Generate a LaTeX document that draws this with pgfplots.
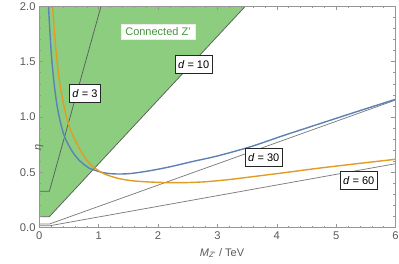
\documentclass[border=0pt]{standalone}
\usepackage{pgfplots}
\pgfplotsset{compat=1.18}
\usepackage{fontspec}
\setmainfont{Liberation Sans}
\usetikzlibrary{shadows}
\definecolor{zgreen}{RGB}{140,205,128}
\definecolor{zgreentext}{RGB}{70,150,60}
\definecolor{zblue}{RGB}{94,129,181}
\definecolor{zorange}{RGB}{225,156,36}
\definecolor{framec}{RGB}{150,150,150}
\definecolor{ticklab}{RGB}{90,90,90}
\definecolor{dline}{RGB}{125,125,125}

\begin{document}
\fontsize{10.8}{13}\selectfont
\begin{tikzpicture}
\begin{axis}[
  at={(0,0)}, anchor=south west,
  scale only axis, width=356.2pt, height=221.4pt,
  xmin=0, xmax=6, ymin=0, ymax=2,
  xtick={0,1,2,3,4,5,6}, ytick={0,0.5,1,1.5,2},
  minor x tick num=4, minor y tick num=4,
  tick align=inside,
  major tick length=4pt, minor tick length=2pt,
  axis line style={framec, line width=0.7pt},
  every tick/.style={framec, line width=0.5pt},
  tick label style={font=\fontsize{11.2}{13}\selectfont, text=ticklab},
  /pgf/number format/assume math mode=true,
  yticklabel style={/pgf/number format/fixed, /pgf/number format/fixed zerofill, /pgf/number format/precision=1},
  xlabel={\textit{M}\textsubscript{\textit{Z'}} / TeV},
  xlabel style={at={(axis description cs:0.513,0)}, anchor=center, yshift=-25.3pt, text=ticklab, font=\fontsize{11}{13}\selectfont},
  ylabel={\textit{η}},
  ylabel style={at={(axis description cs:0,0.495)}, anchor=center, xshift=-29pt, text=ticklab, font=\fontsize{11}{13}\selectfont},
  clip=true,
  axis on top,
]
% connected region
\addplot[fill=zgreen, draw=none] coordinates {(0,0.10) (0.17,0.10) (3.47,2.0) (0,2.0)} -- cycle;

% d lines
\addplot[dline!75!black, line width=0.75pt] coordinates {(0,0.33) (0.17,0.33) (1.04,2.0)};
\addplot[dline!75!black, line width=0.75pt] coordinates {(0,0.10) (0.17,0.10) (3.47,2.0)};
\addplot[dline, line width=0.75pt] coordinates {(0,0.033) (0.17,0.033) (6,1.153)};
\addplot[dline, line width=0.75pt] coordinates {(0,0.017) (0.17,0.017) (6,0.578)};

% blue curve
\addplot[zblue, line width=1.4pt, smooth] coordinates {
(0.155,2.00) (0.18,1.76) (0.21,1.52) (0.25,1.30) (0.30,1.10) (0.353,0.96)
(0.42,0.83) (0.52,0.72) (0.62,0.64) (0.72,0.585) (0.85,0.535) (0.93,0.52)
(1.05,0.50) (1.2,0.488) (1.35,0.485) (1.55,0.49) (1.866,0.515) (2.2,0.55)
(2.6,0.60) (3.0,0.648) (3.55,0.73) (4.1,0.83) (4.67,0.93) (5.3,1.04) (6.0,1.16)};

% orange curve
\addplot[zorange, line width=1.4pt, smooth] coordinates {
(0.224,2.00) (0.26,1.73) (0.30,1.50) (0.35,1.29) (0.43,1.06) (0.49,0.94)
(0.56,0.84) (0.66,0.73) (0.80,0.61) (0.93,0.54) (1.1,0.485) (1.33,0.445)
(1.55,0.425) (1.78,0.415) (2.1,0.408) (2.43,0.407) (2.8,0.415) (3.2,0.435)
(3.55,0.458) (4.1,0.495) (4.67,0.535) (5.3,0.575) (6.0,0.618)};

% labels
\node[fill=white, draw=white!85!gray, text=zgreentext, inner xsep=4pt, minimum height=15pt, font=\fontsize{11}{13}\selectfont]
  at (axis cs:2.0,1.77) {Connected Z'};
\tikzset{dlab/.style={fill=white, draw=black!85, line width=0.6pt, inner xsep=2.8pt, minimum height=18pt,
  drop shadow={shadow xshift=0.8pt, shadow yshift=-0.8pt, fill=gray!60}, font=\fontsize{11}{13}\selectfont}}
\node[dlab] at (axis cs:0.77,1.214) {\textit{d} = 3};
\node[dlab] at (axis cs:2.60,1.477) {\textit{d} = 10};
\node[dlab] at (axis cs:3.78,0.636) {\textit{d} = 30};
\node[dlab] at (axis cs:5.38,0.428) {\textit{d} = 60};
\end{axis}
\pgfresetboundingbox
\path[use as bounding box] (-39.3pt,-36.3pt) rectangle (359.7pt,227.7pt);
\end{tikzpicture}
\end{document}
